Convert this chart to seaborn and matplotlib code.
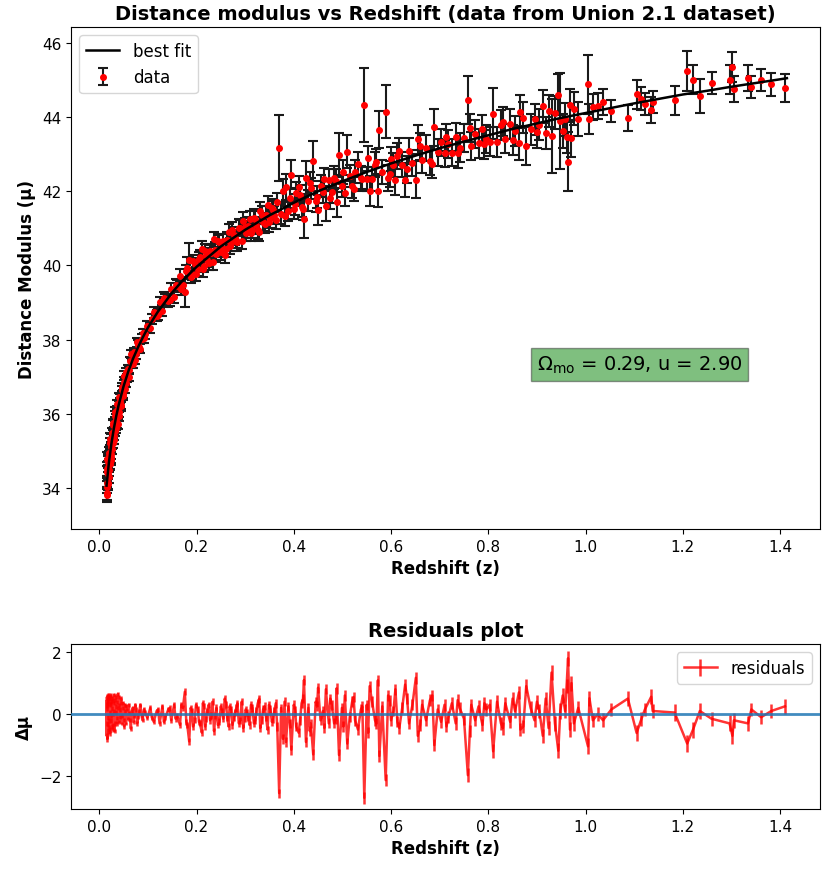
import numpy as np
import pandas as pd
import matplotlib
matplotlib.use("Agg")
import matplotlib.pyplot as plt
import seaborn as sns

# ---------------- data ----------------
z = [0.0150, 0.0152, 0.0158, 0.0163, 0.0168, 0.0172, 0.0178, 0.0183, 0.0190, 0.0198,
     0.0206, 0.0215, 0.0224, 0.0233, 0.0242, 0.0251, 0.0262, 0.0273, 0.0285, 0.0297,
     0.0310, 0.0323, 0.0336, 0.0350, 0.0365, 0.0380, 0.0396, 0.0412, 0.0430, 0.0450,
     0.0470, 0.0490, 0.0512, 0.0535, 0.0560, 0.0590, 0.0620, 0.0650, 0.0685, 0.0720,
     0.0760, 0.0800, 0.0845, 0.0890, 0.0940, 0.0990, 0.105, 0.112, 0.118, 0.124,
     0.130, 0.136, 0.142, 0.148, 0.154, 0.160, 0.166, 0.172, 0.176, 0.181,
     0.185, 0.190, 0.196, 0.203, 0.207, 0.211, 0.215, 0.220, 0.225, 0.230,
     0.236, 0.241, 0.247, 0.252, 0.258, 0.263, 0.268, 0.274, 0.279, 0.284,
     0.290, 0.296, 0.301, 0.306, 0.312, 0.318, 0.323, 0.329, 0.334, 0.340,
     0.346, 0.352, 0.357, 0.363, 0.370, 0.374, 0.378, 0.384, 0.389, 0.395,
     0.400, 0.405, 0.410, 0.416, 0.421, 0.425, 0.430, 0.435, 0.440, 0.445,
     0.450, 0.455, 0.460, 0.466, 0.472, 0.478, 0.483, 0.488, 0.493, 0.499,
     0.505, 0.510, 0.515, 0.520, 0.526, 0.532, 0.538, 0.545, 0.550, 0.556,
     0.561, 0.567, 0.573, 0.576, 0.582, 0.589, 0.594, 0.600, 0.605, 0.609,
     0.617, 0.623, 0.629, 0.637, 0.644, 0.651, 0.655, 0.664, 0.672, 0.680,
     0.689, 0.696, 0.703, 0.710, 0.718, 0.725, 0.733, 0.741, 0.750, 0.758,
     0.765, 0.773, 0.780, 0.788, 0.796, 0.803, 0.810, 0.818, 0.826, 0.835,
     0.845, 0.855, 0.863, 0.866, 0.878, 0.887, 0.895, 0.905, 0.912, 0.918,
     0.930, 0.937, 0.944, 0.948, 0.953, 0.958, 0.964, 0.968, 0.971, 0.976,
     0.985, 1.005, 1.008, 1.015, 1.025, 1.036, 1.053, 1.087, 1.105, 1.115,
     1.122, 1.135, 1.138, 1.183, 1.209, 1.221, 1.235, 1.259, 1.296, 1.302,
     1.305, 1.334, 1.341, 1.361, 1.382, 1.410]

mu = [33.82, 34.51, 33.85, 34.43, 34.14, 34.70, 34.10, 34.57, 34.38, 34.95,
      34.47, 34.83, 35.32, 34.82, 34.76, 35.31, 35.19, 35.69, 35.21, 35.52,
      35.30, 35.94, 35.69, 35.61, 36.10, 35.73, 36.04, 36.45, 36.31, 36.20,
      36.63, 36.48, 37.03, 36.83, 36.84, 37.20, 37.19, 37.61, 37.33, 37.59,
      37.60, 37.86, 37.75, 38.17, 38.15, 38.37, 38.31, 38.73, 38.64, 39.00,
      38.78, 39.09, 39.04, 39.36, 39.15, 39.45, 39.72, 39.48, 39.28, 39.94,
      40.15, 39.77, 40.03, 39.90, 40.22, 40.45, 39.99, 40.29, 40.07, 40.34,
      40.70, 40.30, 40.63, 40.47, 40.28, 40.69, 40.53, 40.95, 40.75, 40.62,
      41.00, 41.20, 40.88, 41.07, 40.88, 41.28, 41.08, 40.89, 41.35, 41.12,
      41.62, 41.27, 41.49, 41.23, 43.17, 41.39, 42.02, 42.12, 41.47, 42.45,
      41.51, 41.96, 42.11, 41.58, 41.25, 42.37, 41.75, 42.08, 42.81, 41.73,
      41.49, 42.14, 41.99, 41.60, 42.30, 41.97, 42.36, 41.70, 42.98, 42.14,
      41.94, 43.07, 42.41, 42.13, 42.52, 42.73, 42.37, 44.33, 42.34, 42.01,
      42.33, 42.72, 42.02, 43.66, 42.52, 44.15, 42.36, 42.87, 42.71, 42.31,
      43.09, 42.72, 42.30, 43.09, 42.76, 42.31, 43.40, 42.84, 43.17, 42.81,
      43.72, 43.05, 43.32, 43.02, 43.28, 43.04, 43.46, 43.18, 43.43, 44.47,
      43.21, 43.54, 43.29, 43.68, 43.41, 43.34, 44.09, 43.33, 43.78, 43.42,
      43.81, 43.63, 43.30, 44.15, 43.22, 43.67, 43.94, 43.79, 44.29, 43.58,
      43.50, 44.12, 44.60, 43.90, 43.63, 43.94, 42.80, 44.32, 43.43, 44.23,
      43.95, 44.88, 43.95, 44.27, 44.30, 44.40, 44.16, 43.98, 44.61, 44.50,
      44.35, 44.20, 44.40, 44.45, 45.24, 45.01, 44.56, 44.92, 45.01, 45.36,
      44.76, 45.06, 44.82, 45.01, 44.88, 44.78]

mu_err = [.20, .18, .17, .16, .18, .17, .16, .15, .15, .16,
          .15, .14, .16, .14, .15, .14, .13, .14, .14, .13,
          .13, .13, .12, .13, .12, .13, .12, .12, .12, .12,
          .11, .12, .12, .11, .11, .12, .11, .12, .11, .11,
          .12, .12, .12, .12, .13, .13, .14, .14, .15, .15,
          .15, .15, .16, .16, .16, .16, .17, .17, .40, .30,
          .45, .17, .18, .18, .19, .20, .18, .19, .19, .20,
          .21, .20, .20, .20, .21, .20, .21, .22, .21, .22,
          .22, .23, .22, .23, .23, .24, .23, .24, .24, .25,
          .25, .25, .25, .26, .90, .26, .30, .35, .27, .40,
          .27, .28, .30, .28, .50, .45, .28, .29, .54, .29,
          .40, .30, .30, .40, .30, .30, .31, .40, .60, .30,
          .35, .45, .30, .31, .31, .33, .31, 1.00, .32, .40,
          .32, .33, .45, .50, .33, .72, .35, .33, .33, .40,
          .35, .34, .45, .35, .35, .50, .40, .35, .35, .36,
          .50, .36, .36, .37, .37, .37, .38, .38, .38, .65,
          .38, .38, .39, .39, .39, .39, .69, .40, .40, .40,
          .41, .41, .45, .45, .50, .42, .42, .42, .45, .43,
          1.00, .44, .55, 1.30, .45, .45, .80, .45, .50, .45,
          .45, .80, .40, .35, .35, .35, .30, .35, .40, .30,
          .30, .35, .30, .40, .54, .40, .46, .30, .40, .40,
          .35, .35, .30, .30, .30, .37]

resid = [0.40, -0.70, 0.55, -0.30, 0.30, -0.55, 0.58, -0.10, 0.35, -0.45,
         0.50, 0.05, -0.62, 0.35, 0.60, -0.20, 0.18, -0.50, 0.45, 0.10,
         0.62, -0.30, 0.25, 0.55, -0.12, 0.65, 0.30, -0.25, 0.15, 0.50,
         -0.05, 0.35, -0.40, 0.10, 0.25, -0.15, 0.05, -0.47, 0.20, -0.05,
         0.15, -0.10, 0.30, -0.20, 0.05, -0.12, 0.20, -0.25, 0.10, -0.30,
         0.25, -0.10, 0.15, -0.20, 0.30, -0.05, -0.35, 0.20, 0.72, -0.35,
         -0.88, 0.10, -0.20, 0.15, -0.30, -0.60, 0.25, -0.15, 0.30, -0.05,
         -0.55, 0.20, -0.25, 0.10, 0.50, -0.10, 0.25, -0.35, 0.05, 0.35,
         -0.20, -0.45, 0.15, -0.10, 0.30, -0.30, 0.10, 0.50, -0.20, 0.25,
         -0.50, 0.15, -0.15, 0.35, -2.55, 0.20, -0.80, -0.90, 0.25, -1.15,
         0.30, -0.40, -0.60, 0.35, 1.10, -0.90, 0.20, -0.30, -1.30, 0.40,
         0.85, -0.20, 0.10, 0.80, -0.30, 0.30, -0.30, 0.83, -1.32, 0.20,
         0.60, -0.95, -0.10, 0.40, -0.20, -0.50, 0.15, -2.70, 0.30, 0.90,
         0.40, -0.20, 1.09, -1.35, 0.25, -2.13, 0.60, -0.20, 0.10, 0.80,
         -0.45, 0.20, 0.95, -0.30, 0.30, 1.17, -0.70, 0.30, -0.20, 0.45,
         -1.00, 0.15, -0.25, 0.30, -0.10, 0.35, -0.30, 0.20, -0.15, -1.97,
         0.30, -0.20, 0.25, -0.35, 0.15, 0.30, -1.20, 0.40, -0.30, 0.35,
         -0.25, 0.10, 0.70, -0.50, 0.90, 0.20, -0.20, 0.10, -0.70, 0.50,
         1.34, -0.30, -1.18, 0.10, 0.60, 0.10, 1.80, -0.50, 1.00, -0.30,
         0.20, -1.04, 0.51, -0.20, 0.00, -0.20, 0.15, 0.50, -0.61, -0.15,
         0.15, 0.56, 0.10, 0.05, -0.95, -0.50, 0.10, -0.15, -0.30, -0.70,
         -0.20, -0.30, 0.15, -0.10, 0.10, 0.25]

resid_err = [.10, .10, .09, .09, .10, .09, .09, .08, .08, .09,
             .08, .08, .09, .08, .08, .08, .07, .08, .08, .07,
             .07, .07, .07, .07, .07, .07, .07, .07, .07, .07,
             .06, .07, .07, .06, .06, .07, .06, .07, .06, .06,
             .07, .07, .07, .07, .07, .07, .08, .08, .08, .08,
             .08, .08, .09, .09, .09, .09, .09, .09, .12, .10,
             .12, .09, .10, .10, .10, .11, .10, .10, .10, .11,
             .11, .11, .11, .11, .11, .11, .11, .12, .11, .12,
             .12, .12, .12, .12, .12, .13, .12, .13, .13, .13,
             .13, .13, .13, .14, .15, .14, .15, .15, .14, .16,
             .14, .15, .15, .15, .16, .16, .15, .15, .17, .15,
             .16, .16, .16, .16, .16, .16, .16, .17, .18, .16,
             .17, .18, .16, .17, .17, .17, .17, .20, .17, .18,
             .17, .17, .18, .19, .17, .20, .18, .17, .17, .18,
             .18, .18, .19, .18, .18, .19, .19, .18, .18, .19,
             .20, .19, .19, .19, .19, .19, .20, .20, .20, .22,
             .20, .20, .20, .20, .20, .20, .22, .21, .21, .21,
             .21, .21, .22, .22, .22, .22, .22, .22, .22, .22,
             .25, .23, .24, .25, .23, .23, .25, .23, .24, .23,
             .23, .26, .24, .23, .23, .23, .22, .24, .25, .22,
             .22, .24, .22, .26, .28, .26, .27, .22, .26, .26,
             .24, .24, .22, .22, .22, .25]

z_more = [0.0155, 0.0166, 0.0175, 0.0187, 0.0194, 0.0202, 0.0211, 0.0219, 0.0228, 0.0238,
          0.0247, 0.0256, 0.0267, 0.0279, 0.0291, 0.0303, 0.0316, 0.0329, 0.0343, 0.0357,
          0.0372, 0.0388, 0.0404, 0.0421, 0.0440, 0.0460, 0.0480, 0.0500, 0.0525, 0.0548,
          0.0575, 0.0605, 0.0640, 0.0670, 0.0705, 0.0740, 0.0780, 0.0825, 0.0870, 0.0920,
          0.108, 0.121, 0.133, 0.145, 0.157, 0.169, 0.179, 0.188, 0.193, 0.199,
          0.205, 0.213, 0.218, 0.222, 0.228, 0.233, 0.239, 0.244, 0.250, 0.255,
          0.261, 0.266, 0.271, 0.277, 0.282, 0.287, 0.293, 0.299, 0.304, 0.309,
          0.315, 0.321, 0.326, 0.331, 0.337, 0.343, 0.349, 0.355, 0.360, 0.366,
          0.381, 0.392, 0.403, 0.413, 0.419, 0.433, 0.448, 0.463, 0.475, 0.486,
          0.502, 0.523, 0.541, 0.553, 0.570, 0.597, 0.613, 0.633, 0.660, 0.685,
          0.714, 0.737, 0.762, 0.792, 0.830, 0.850, 0.872, 0.900, 0.924, 0.961]

mu_more = [34.02, 34.77, 34.14, 34.77, 34.28, 34.85, 34.64, 35.20, 34.66, 35.11,
           34.92, 35.48, 35.04, 35.43, 35.74, 35.41, 36.05, 35.53, 35.86, 35.74,
           36.25, 36.05, 35.93, 36.41, 36.24, 36.73, 36.53, 36.86, 36.67, 37.12,
           36.96, 36.99, 37.41, 37.34, 37.67, 37.45, 37.93, 37.81, 38.02, 38.04,
           38.56, 38.67, 39.13, 39.06, 39.47, 39.37, 39.84, 39.69, 40.11, 39.77,
           40.17, 39.89, 40.40, 40.14, 40.39, 40.08, 40.42, 40.66, 40.36, 40.65,
           40.43, 40.90, 40.61, 40.82, 40.68, 41.02, 40.66, 41.04, 40.96, 41.24,
           40.96, 41.24, 40.95, 41.47, 41.16, 41.36, 41.16, 41.54, 41.36, 41.70,
           41.32, 41.82, 41.65, 41.89, 41.51, 42.22, 41.84, 42.34, 41.83, 42.28,
           42.52, 42.06, 42.33, 42.89, 42.79, 42.47, 42.95, 42.59, 43.21, 42.74,
           43.45, 43.02, 43.71, 43.27, 43.88, 43.38, 43.98, 43.59, 44.17, 43.47]

mu_err_more = [.17, .19, .16, .15, .16, .15, .15, .15, .14, .14,
               .14, .14, .13, .13, .13, .13, .13, .12, .12, .12,
               .12, .12, .12, .12, .12, .11, .11, .12, .11, .11,
               .11, .11, .11, .11, .11, .12, .12, .12, .12, .13,
               .14, .15, .15, .16, .16, .17, .17, .17, .18, .18,
               .19, .19, .19, .19, .20, .20, .20, .20, .21, .21,
               .21, .21, .21, .22, .22, .22, .22, .23, .23, .23,
               .23, .24, .24, .24, .24, .25, .25, .25, .25, .26,
               .27, .27, .28, .28, .29, .30, .30, .30, .31, .31,
               .32, .32, .33, .34, .34, .35, .35, .36, .36, .37,
               .37, .38, .38, .39, .40, .41, .42, .42, .43, .45]

resid_more = [0.20, -0.80, 0.45, -0.35, 0.60, -0.20, 0.30, -0.50, 0.55, -0.05,
              0.40, -0.40, 0.50, 0.00, -0.35, 0.35, -0.55, 0.45, 0.05, 0.40,
              -0.30, 0.20, 0.55, -0.10, 0.35, -0.30, 0.20, -0.20, 0.30, -0.30,
              0.15, 0.30, -0.20, 0.10, -0.25, 0.30, -0.30, 0.10, -0.05, 0.15,
              -0.10, 0.15, -0.25, 0.20, -0.15, 0.30, -0.25, 0.20, -0.40, 0.30,
              -0.25, 0.35, -0.40, 0.10, -0.20, 0.40, -0.05, -0.35, 0.25, -0.15,
              0.30, -0.40, 0.15, -0.10, 0.20, -0.30, 0.40, -0.15, 0.05, -0.35,
              0.20, -0.20, 0.35, -0.45, 0.15, -0.10, 0.30, -0.25, 0.10, -0.40,
              0.40, -0.30, 0.10, -0.20, 0.50, -0.55, 0.25, -0.45, 0.50, -0.15,
              -0.40, 0.55, 0.25, -0.60, -0.30, 0.45, -0.25, 0.50, -0.35, 0.60,
              -0.40, 0.45, -0.55, 0.35, -0.45, 0.50, -0.40, 0.40, -0.45, 0.90]

resid_err_more = [.09, .10, .09, .08, .09, .08, .08, .08, .08, .08,
                  .08, .08, .07, .07, .07, .07, .07, .07, .07, .07,
                  .07, .07, .07, .07, .07, .06, .06, .07, .06, .06,
                  .06, .06, .06, .06, .06, .07, .07, .07, .07, .07,
                  .08, .08, .08, .09, .09, .09, .09, .09, .10, .10,
                  .10, .10, .10, .10, .11, .11, .11, .11, .11, .11,
                  .11, .11, .11, .12, .12, .12, .12, .12, .12, .12,
                  .12, .13, .13, .13, .13, .13, .13, .13, .13, .14,
                  .14, .14, .15, .15, .15, .16, .16, .16, .16, .16,
                  .17, .17, .17, .18, .18, .18, .18, .19, .19, .19,
                  .19, .20, .20, .20, .21, .21, .22, .22, .22, .23]

# best-fit curve
fit_z = [0.015, 0.02, 0.025, 0.03, 0.035, 0.04, 0.05, 0.06, 0.07, 0.08, 0.09, 0.10,
         0.12, 0.15, 0.17, 0.20, 0.25, 0.30, 0.35, 0.40, 0.45, 0.50, 0.55, 0.60,
         0.65, 0.70, 0.75, 0.80, 0.85, 0.90, 0.95, 1.00, 1.05, 1.10, 1.15, 1.20,
         1.25, 1.30, 1.35, 1.40, 1.414]
fit_mu = [34.06, 34.70, 35.19, 35.60, 35.94, 36.24, 36.74, 37.15, 37.50, 37.80, 38.07, 38.32,
          38.74, 39.27, 39.57, 39.96, 40.51, 40.96, 41.35, 41.69, 42.00, 42.27, 42.52, 42.75,
          42.96, 43.16, 43.34, 43.51, 43.68, 43.83, 43.98, 44.11, 44.24, 44.37, 44.49, 44.61,
          44.71, 44.82, 44.92, 45.02, 45.05]

x_ticks = [0.0, 0.2, 0.4, 0.6, 0.8, 1.0, 1.2, 1.4]
y_ticks_top = [34, 36, 38, 40, 42, 44, 46]
y_ticks_res = [-2, 0, 2]

# ---------------- assemble (sorted by redshift) ----------------
sn = pd.DataFrame({
    "z": z + z_more,
    "mu": mu + mu_more,
    "mu_err": mu_err + mu_err_more,
    "resid": resid + resid_more,
    "resid_err": resid_err + resid_err_more,
}).sort_values("z", kind="stable").reset_index(drop=True)

# ---------------- figure ----------------
plt.rcParams['font.family'] = ['DejaVu Sans']
fig = plt.figure(figsize=(8.27, 8.70), dpi=100)
ax1 = fig.add_axes([0.0859, 0.3908, 0.9056, 0.5770])
ax2 = fig.add_axes([0.0859, 0.0690, 0.9056, 0.1896])

df_fit = pd.DataFrame({"z": fit_z, "mu": fit_mu})
sns.lineplot(data=df_fit, x="z", y="mu", ax=ax1, color="black", linewidth=1.8,
             label="best fit", sort=False, estimator=None, zorder=5)
ax1.errorbar(sn["z"], sn["mu"], yerr=sn["mu_err"], fmt="o", color="red", markersize=4,
             ecolor="#1a1a1a", elinewidth=1.5, capsize=3.5, capthick=1.5,
             label="data", zorder=3)

ax1.set_xlim(-0.058, 1.482)
ax1.set_ylim(32.89, 46.43)
ax1.set_xticks(x_ticks)
ax1.set_yticks(y_ticks_top)
ax1.tick_params(labelsize=11)
ax1.set_title("Distance modulus vs Redshift (data from Union 2.1 dataset)",
              fontsize=14, fontweight="bold")
ax1.set_xlabel("Redshift (z)", fontsize=12, fontweight="bold")
ax1.set_ylabel("Distance Modulus (\u03bc)", fontsize=12, fontweight="bold")
ax1.legend(loc="upper left", fontsize=12)
ax1.text(0.9, 37.32, r"$\Omega_{\mathrm{mo}}$ = 0.29, u = 2.90", fontsize=14,
         va="center", ha="left",
         bbox=dict(facecolor="green", alpha=0.5, edgecolor="#333333"))

# residuals
ax2.errorbar(sn["z"], sn["resid"], yerr=sn["resid_err"], color="red", linewidth=1.8,
             alpha=0.8, label="residuals", zorder=2)
ax2.axhline(0, color="C0", linewidth=2, alpha=0.85, zorder=3)
ax2.set_xlim(-0.058, 1.482)
ax2.set_ylim(-3.06, 2.26)
ax2.set_xticks(x_ticks)
ax2.set_yticks(y_ticks_res)
ax2.tick_params(labelsize=11)
ax2.set_title("Residuals plot", fontsize=14, fontweight="bold")
ax2.set_xlabel("Redshift (z)", fontsize=12, fontweight="bold")
ax2.set_ylabel("\u0394\u03bc", fontsize=12, fontweight="bold")
ax2.legend(loc="upper right", fontsize=12)

fig.savefig("out.png", dpi=100)
